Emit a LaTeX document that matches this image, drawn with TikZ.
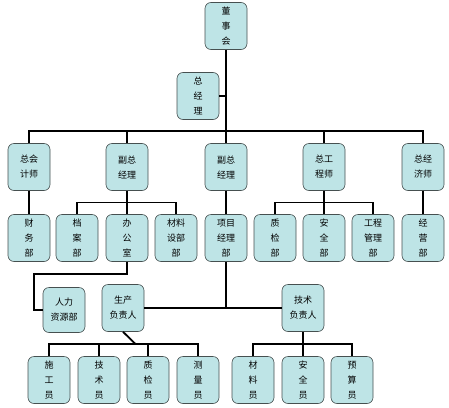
\documentclass[tikz,border=0pt]{standalone}
\usepackage{fontspec}
\usepackage{tikz}
\usetikzlibrary{positioning,calc}
\newfontfamily\cjk{Noto Sans CJK SC}
\definecolor{boxfill}{RGB}{190, 228, 230}
\definecolor{boxline}{RGB}{70, 80, 80}
\tikzset{
    unit/.style={rectangle, draw=boxline, line width=0.6pt, fill=boxfill,
                 minimum width=42pt, minimum height=47pt, inner sep=0pt,
                 rounded corners=6pt, align=center,
                 font=\cjk\fontsize{9}{15}\selectfont},
    link/.style={draw, line width=1.8pt, line join=miter},
}

\begin{document}
\begin{tikzpicture}[x=1pt, y=-1pt]
        \useasboundingbox (0,0) rectangle (449,407);

        % Top
        \node [unit] (board) at (226,26)  {董\\事\\会};
        \node [unit] (gm)    at (198,96)  {总\\经\\理};

        % Second level
        \node [unit] (cfo)   at (29,167)  {总会\\计师};
        \node [unit] (vpa)   at (127,167) {副总\\经理};
        \node [unit] (vpb)   at (226,167) {副总\\经理};
        \node [unit] (cto)   at (324,167) {总工\\程师};
        \node [unit] (ceco)  at (423,167) {总经\\济师};

        % Departments
        \node [unit] (fin)   at (29,238)  {财\\务\\部};
        \node [unit] (arch)  at (77,238)  {档\\案\\部};
        \node [unit] (office) at (127,238) {办\\公\\室};
        \node [unit] (matd)  at (176,238) {材料\\设部\\部};
        \node [unit] (proj)  at (226,238) {项目\\经理\\部};
        \node [unit] (qcd)   at (275,238) {质\\检\\部};
        \node [unit] (safed) at (324,238) {安\\全\\部};
        \node [unit] (engd)  at (373,238) {工程\\管理\\部};
        \node [unit] (bizd)  at (423,238) {经\\营\\部};

        % Project staff
        \node [unit, minimum height=45pt] (hr) at (64,310) {人力\\资源部};
        \node [unit] (prod)  at (123,308) {生产\\负责人};
        \node [unit] (tech)  at (303,308) {技术\\负责人};

        \node [unit] (build) at (49,380)  {施\\工\\员};
        \node [unit] (techm) at (99,380)  {技\\术\\员};
        \node [unit] (qcm)   at (148,380) {质\\检\\员};
        \node [unit] (surv)  at (198,380) {测\\量\\员};
        \node [unit] (matm)  at (253,380) {材\\料\\员};
        \node [unit] (safem) at (303,380) {安\\全\\员};
        \node [unit] (budg)  at (352,380) {预\\算\\员};

        \coordinate (bus) at (226,131);
        \coordinate (hrturn) at (34,274);

        % Top links
        \draw[link] (board.south) -- (vpb.north);
        \draw[link] (gm.east) -- (gm.east -| board.south);
        \draw[link] (cfo.north) |- (bus) -| (ceco.north);
        \draw[link] (vpa.north) -- (vpa.north |- bus);
        \draw[link] (cto.north) -- (cto.north |- bus);

        % Department links
        \draw[link] (cfo.south) -- (fin.north);
        \draw[link] (vpa.south) -- (office.north);
        \draw[link] (arch.north) |- ($(vpa.south)!0.5!(office.north)$) -| (matd.north);
        \draw[link] (vpb.south) -- (proj.north);
        \draw[link] (cto.south) -- (safed.north);
        \draw[link] (qcd.north) |- ($(cto.south)!0.5!(safed.north)$) -| (engd.north);
        \draw[link] (ceco.south) -- (bizd.north);

        % Lower links
        \draw[link] (office.south) |- (hrturn) |- (hr.west);
        \draw[link] (proj.south) -- (proj.south |- prod.east);
        \draw[link] (prod.east) -- (tech.west);
        \draw[link] (prod.south) -- ($(prod.south)!0.5!(qcm.north)$);
        \draw[link] (build.north) |- ($(prod.south)!0.5!(qcm.north)$) -| (surv.north);
        \draw[link] (techm.north) -- (techm.north |- {$(prod.south)!0.5!(qcm.north)$});
        \draw[link] (qcm.north) -- (qcm.north |- {$(prod.south)!0.5!(qcm.north)$});
        \draw[link] (tech.south) -- (safem.north);
        \draw[link] (matm.north) |- ($(tech.south)!0.5!(safem.north)$) -| (budg.north);
    \end{tikzpicture}
\end{document}
